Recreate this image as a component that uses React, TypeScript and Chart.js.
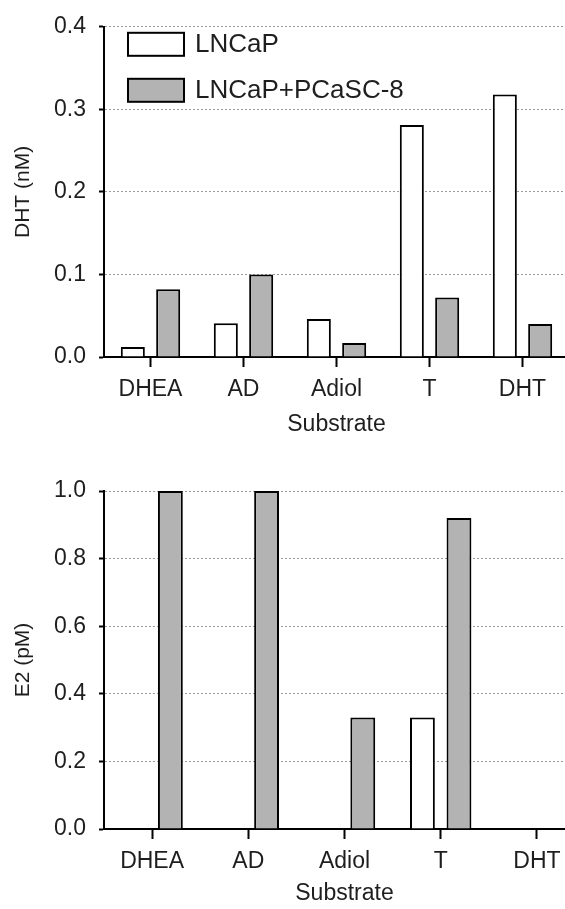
import React, { useEffect, useRef } from 'react';
import { Chart, registerables } from 'chart.js';

Chart.register(...registerables);

// ---- data ----
const categories = ['DHEA', 'AD', 'Adiol', 'T', 'DHT'];
const seriesLabels = ['LNCaP', 'LNCaP+PCaSC-8'];
const dhtLNCaP = [0.012, 0.041, 0.046, 0.281, 0.318];
const dhtCoculture = [0.082, 0.1, 0.017, 0.072, 0.04];
const e2LNCaP = [0, 0, 0, 0.33, 0];
const e2Coculture = [1.0, 1.0, 0.33, 0.92, 0];
const dhtTicks = [0, 0.1, 0.2, 0.3, 0.4];
const e2Ticks = [0, 0.2, 0.4, 0.6, 0.8, 1.0];
const xTitle = 'Substrate';
const dhtTitle = 'DHT (nM)';
const e2Title = 'E2 (pM)';

const FONT = "Arial, 'Liberation Sans', Helvetica, sans-serif";
const TEXT = '#1e1e1e';
const WHITE = '#ffffff';
const GREY = '#b3b3b3';

const insideLegend = {
  id: 'insideLegend',
  afterDraw(chart: any, _args: any, opts: any) {
    if (!opts || !opts.show) return;
    const { ctx, chartArea } = chart;
    ctx.save();
    chart.data.datasets.forEach((ds: any, i: number) => {
      const bx = chartArea.left + 24;
      const by = chartArea.top + 6 + i * 46;
      ctx.fillStyle = ds.backgroundColor;
      ctx.fillRect(bx, by, 56, 23);
      ctx.lineWidth = 2;
      ctx.strokeStyle = '#000';
      ctx.strokeRect(bx, by, 56, 23);
      ctx.fillStyle = TEXT;
      ctx.font = `26px ${FONT}`;
      ctx.textBaseline = 'middle';
      ctx.textAlign = 'left';
      ctx.fillText(ds.label, bx + 67, by + 12.5);
    });
    ctx.restore();
  },
};

type PanelProps = {
  top: number;
  width: number;
  height: number;
  padTop: number;
  xHeight: number;
  a: number[];
  b: number[];
  ticks: number[];
  yTitle: string;
  legend: boolean;
};

function Panel(p: PanelProps) {
  const ref = useRef<HTMLCanvasElement | null>(null);
  useEffect(() => {
    if (!ref.current) return;
    const chart = new Chart(ref.current, {
      type: 'bar',
      data: {
        labels: categories,
        datasets: [
          {
            label: seriesLabels[0],
            data: p.a,
            backgroundColor: WHITE,
            borderColor: '#000',
            borderWidth: 2,
            categoryPercentage: 0.76,
            barPercentage: 0.68,
          },
          {
            label: seriesLabels[1],
            data: p.b,
            backgroundColor: GREY,
            borderColor: '#000',
            borderWidth: 2,
            categoryPercentage: 0.76,
            barPercentage: 0.68,
          },
        ],
      },
      plugins: [insideLegend as any],
      options: {
        responsive: false,
        animation: false,
        devicePixelRatio: 1,
        layout: { padding: { top: p.padTop, left: 0, right: 0, bottom: 0 } },
        plugins: {
          legend: { display: false },
          tooltip: { enabled: false },
          insideLegend: { show: p.legend },
        } as any,
        scales: {
          x: {
            type: 'category',
            grid: {
              display: true,
              drawOnChartArea: false,
              drawTicks: true,
              tickLength: 10,
              tickColor: '#000',
              tickWidth: 2,
              offset: false,
            },
            border: { display: true, color: '#000', width: 2 },
            ticks: {
              color: TEXT,
              font: { family: FONT, size: 23 },
              padding: 9,
              maxRotation: 0,
              autoSkip: false,
            },
            title: {
              display: true,
              text: xTitle,
              color: TEXT,
              font: { family: FONT, size: 23 },
              padding: { top: 0, bottom: 0 },
            },
            afterFit: (s: any) => {
              s.height = p.xHeight;
            },
          },
          y: {
            min: 0,
            max: p.ticks[p.ticks.length - 1],
            afterBuildTicks: (s: any) => {
              s.ticks = p.ticks.map((v) => ({ value: v }));
            },
            ticks: {
              color: TEXT,
              font: { family: FONT, size: 23 },
              padding: 13,
              callback: (v: any) => Number(v).toFixed(1),
            },
            grid: {
              color: '#9a9a9a',
              lineWidth: 1,
              drawTicks: true,
              tickLength: 5,
              tickColor: '#000',
              tickWidth: 2,
              tickBorderDash: [],
            },
            border: { display: true, color: '#000', width: 2, dash: [2, 2] },
            title: {
              display: true,
              text: p.yTitle,
              color: TEXT,
              font: { family: FONT, size: 21 },
              padding: { top: 11, bottom: 0 },
            },
            afterFit: (s: any) => {
              s.width = 104;
            },
          },
        },
      },
    } as any);
    return () => chart.destroy();
  }, []);
  return (
    <canvas
      ref={ref}
      width={p.width}
      height={p.height}
      style={{ position: 'absolute', left: 0, top: p.top, width: p.width, height: p.height }}
    />
  );
}

export default function App() {
  return (
    <div
      style={{
        position: 'fixed',
        left: 0,
        top: 0,
        width: 565,
        height: 909,
        overflow: 'hidden',
        background: '#fff',
      }}
    >
      <Panel
        top={0}
        width={569}
        height={438}
        padTop={24}
        xHeight={81}
        a={dhtLNCaP}
        b={dhtCoculture}
        ticks={dhtTicks}
        yTitle={dhtTitle}
        legend={true}
      />
      <Panel
        top={460}
        width={585}
        height={447}
        padTop={31}
        xHeight={78}
        a={e2LNCaP}
        b={e2Coculture}
        ticks={e2Ticks}
        yTitle={e2Title}
        legend={false}
      />
    </div>
  );
}
